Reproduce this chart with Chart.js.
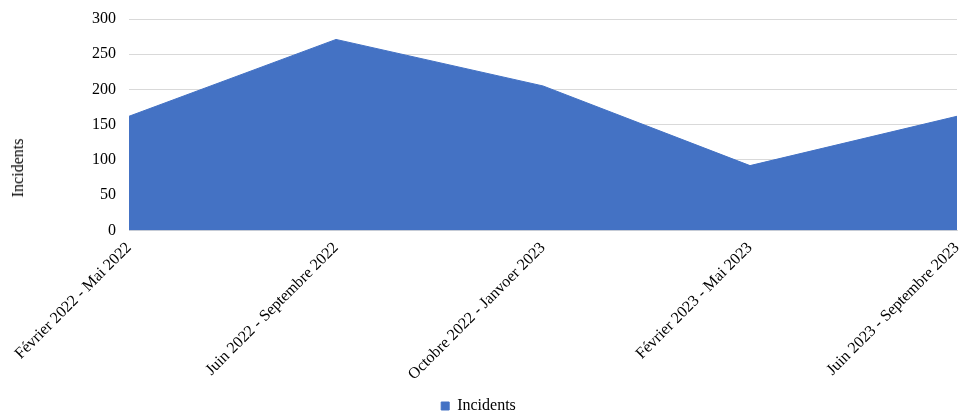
<!DOCTYPE html>
<html lang="fr">
<head>
  <meta charset="UTF-8">
  <title>Incidents</title>
  <script src="https://cdn.jsdelivr.net/npm/chart.js"></script>
  <style>
    body { margin: 0; background: #fff; }
    #box { position: relative; width: 961px; height: 412px; }
    #titreY {
      position: absolute;
      left: 18px;
      top: 168px;
      transform: translate(-50%, -50%) rotate(-90deg);
      font: 16px 'Liberation Serif', 'Times New Roman', serif;
      color: #000;
      white-space: nowrap;
    }
  </style>
</head>
<body>
  <div id="box">
    <canvas id="graphique"></canvas>
    <div id="titreY">Incidents</div>
  </div>
  <script>
    const periodes = [
      "Février 2022 - Mai 2022",
      "Juin 2022 - Septembre 2022",
      "Octobre 2022 - Janvoer 2023",
      "Février 2023 - Mai 2023",
      "Juin 2023 - Septembre 2023"
    ];
    const incidents = [162, 271, 205, 92, 162];
    const ticksY = [0, 50, 100, 150, 200, 250, 300];

    const police = "'Liberation Serif', 'Times New Roman', serif";
    Chart.defaults.font.family = police;
    Chart.defaults.font.size = 16;
    Chart.defaults.color = "#000";

    const ctx = document.getElementById("graphique").getContext("2d");
    new Chart(ctx, {
      type: "line",
      data: {
        labels: periodes,
        datasets: [{
          label: "Incidents",
          data: incidents,
          fill: "origin",
          backgroundColor: "#4472C4",
          borderColor: "#4472C4",
          borderWidth: 1,
          pointRadius: 0,
          tension: 0
        }]
      },
      options: {
        responsive: true,
        maintainAspectRatio: false,
        animation: false,
        layout: { padding: { top: 19, right: 4, left: 0, bottom: -12 } },
        plugins: {
          legend: {
            position: "bottom",
            labels: {
              usePointStyle: true,
              pointStyle: "rect",
              boxWidth: 8,
              boxHeight: 8,
              padding: 2
            }
          },
          tooltip: { enabled: false }
        },
        scales: {
          x: {
            offset: false,
            grid: { display: false },
            border: { display: true, color: "#d9d9d9" },
            ticks: { minRotation: 45, maxRotation: 45, padding: 0 },
            afterFit: axis => { axis.paddingRight = 0; axis.height += 12; }
          },
          y: {
            min: 0,
            max: 300,
            afterBuildTicks: axis => { axis.ticks = ticksY.map(v => ({ value: v })); },
            afterFit: axis => { axis.width = 129; axis.paddingTop = 0; axis.paddingBottom = 0; },
            grid: { color: "#d9d9d9", drawTicks: false },
            border: { display: false },
            ticks: { padding: 13 }
          }
        }
      }
    });
  </script>
</body>
</html>
